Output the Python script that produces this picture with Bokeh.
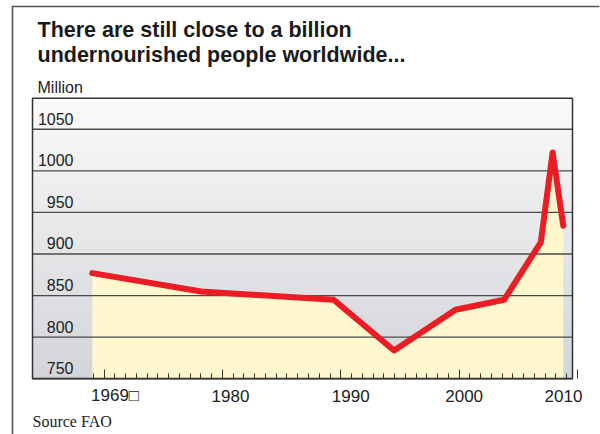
import numpy as np
from bokeh.plotting import figure
from bokeh.models import Range1d, FixedTicker, Label, LinearAxis
from bokeh.embed import file_html
from bokeh.resources import INLINE

# Undernourished people worldwide, millions (FAO)
years = [1969.0, 1978.2, 1989.4, 1994.5, 1999.7, 2003.8, 2006.9, 2007.9, 2008.8]
millions = [877, 855, 845, 784, 833, 845, 914, 1022, 934]

y_ticks = [750, 800, 850, 900, 950, 1000, 1050]
x_ticks = [1970, 1980, 1990, 2000, 2010]
x_tick_labels = ["1969\u25a1", "1980", "1990", "2000", "2010"]
x_label_shift = [11, 8, 10, 5, -14]

# chart box in data units
X0, X1 = 1963.95, 2009.58
Y0, Y1 = 750, 1087.3

# canvas layout in pixels: the chart box sits inside a 600x434 panel
W, H = 600, 434
BOX_L, BOX_R, BOX_T, BOX_B = 32, 572, 97.7, 378.3
kx = (BOX_R - BOX_L) / (X1 - X0)
ky = (BOX_B - BOX_T) / (Y1 - Y0)
XL, XR = X0 - BOX_L / kx, X1 + (W - BOX_R) / kx
YB, YT = Y0 - (H - BOX_B) / ky, Y1 + BOX_T / ky

SANS = "Liberation Sans"
INK = "#222222"

p = figure(width=W, height=H,
           x_range=Range1d(XL, XR), y_range=Range1d(YB, YT),
           output_backend="svg", toolbar_location=None,
           x_axis_location=None, y_axis_location=None,
           min_border=0)
p.grid.visible = False
p.outline_line_color = None
p.background_fill_color = "white"
p.border_fill_color = "white"

# vertical grey gradient inside the chart box
n = 70
edges = np.linspace(Y0, Y1, n + 1)
t = np.linspace(0, 1, n)
bottom_rgb = np.array([210, 212, 216])
top_rgb = np.array([250, 250, 250])
cols = ["#%02x%02x%02x" % tuple(int(round(c)) for c in bottom_rgb + (top_rgb - bottom_rgb) * k) for k in t]
p.quad(left=X0, right=X1, bottom=edges[:-1], top=edges[1:] + 0.6,
       fill_color=cols, line_color=None)

# pale yellow area under the curve
p.varea(x=years, y1=[Y0] * len(years), y2=millions, fill_color="#fff8cf")

# horizontal rules
rules = y_ticks[1:]
p.segment(x0=[X0] * len(rules), x1=[X1] * len(rules), y0=rules, y1=rules,
          line_color="#4a4a4a", line_width=1.3)

# chart box outline
p.quad(left=X0, right=X1, bottom=Y0, top=Y1, fill_color=None,
       line_color="#333333", line_width=1.5)

# panel frame: one open path up the left edge and along the top
fx, fy = XL + 12 / kx, YT - 6 / ky
p.line(x=[fx, fx, XR - 1 / kx], y=[YB, fy, fy],
       line_color="#555555", line_width=1.6, line_join="miter")

# the series
p.line(years, millions, line_color="#ec1c24", line_width=6,
       line_cap="round", line_join="round")

# bottom axis: tall ticks each decade, eleven steps between
minor = [1970 + k * 10 / 11 for k in range(-1, 44) if k % 11 != 0]
ax = LinearAxis(fixed_location=Y0, bounds=(X0, X1),
                ticker=FixedTicker(ticks=x_ticks, minor_ticks=minor))
ax.axis_line_color = "#333333"
ax.axis_line_width = 1.5
ax.major_tick_in = 9
ax.major_tick_out = 0
ax.minor_tick_in = 5
ax.minor_tick_out = 0
ax.major_tick_line_color = "#333333"
ax.minor_tick_line_color = "#333333"
ax.major_label_text_color = None
ax.major_label_text_font_size = "0px"
ax.major_label_standoff = 0
p.add_layout(ax, "below")


def note(x, y, text, dx, dy, size, align="left", font=SANS, style="normal", color=INK):
    p.add_layout(Label(x=x, y=y, x_offset=dx, y_offset=dy, text=text,
                       text_align=align, text_baseline="middle",
                       text_font=font, text_font_style=style,
                       text_font_size=size, text_color=color))


for tk, lab, dx in zip(x_ticks, x_tick_labels, x_label_shift):
    note(tk, Y0, lab, dx, -17.1, "17px", align="center")

for v in y_ticks:
    note(X0, v, str(v), 41, 10.7, "16px", align="right")

# headline, unit and source
note(X0, Y1, "There are still close to a billion", 5, 68.7, "21.5px",
     style="bold", color="#1a1a1a")
note(X0, Y1, "undernourished people worldwide...", 5, 43.7, "21.5px",
     style="bold", color="#1a1a1a")
note(X0, Y1, "Million", 5, 10.4, "16px")
note(X0, Y0, "Source FAO", 0, -42.4, "16px", font="Liberation Serif")

open("out.html", "w").write(file_html(p, INLINE))
